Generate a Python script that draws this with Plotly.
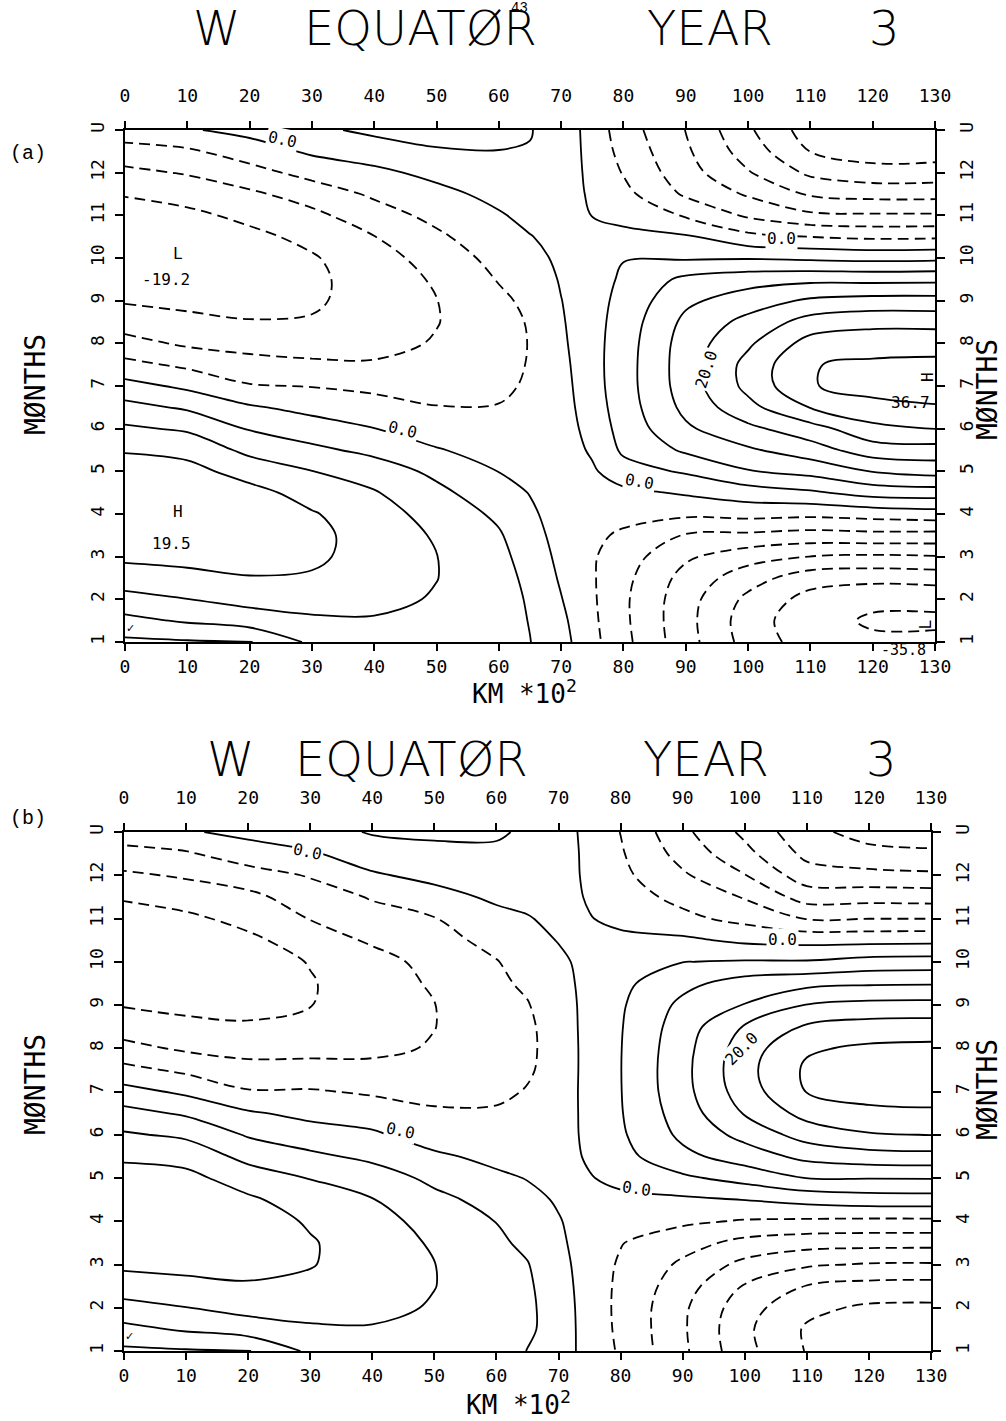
import numpy as np
import plotly.graph_objects as go

# Distance along the equator (units of 10^2 km) and month of year 3
X_KM = [0, 10, 20, 30, 40, 50, 60, 65, 70, 75, 80, 90, 100, 110, 120, 130]
MONTHS = [1.0, 1.5, 2.0, 2.5, 3.0, 3.5, 4.0, 4.5, 5.0, 5.5, 6.0, 6.5, 7.0,
          7.5, 8.0, 8.5, 9.0, 9.5, 10.0, 10.5, 11.0, 11.5, 12.0, 12.5, 13.0]
X_TICKS = [0, 10, 20, 30, 40, 50, 60, 70, 80, 90, 100, 110, 120, 130]
Y_TICKS = [1, 2, 3, 4, 5, 6, 7, 8, 9, 10, 11, 12, 13]
Y_TICKTEXT = ["1", "2", "3", "4", "5", "6", "7", "8", "9", "10", "11", "12", "U"]

# Panel (a): W at each distance, month by month (one list per distance)
A_X0 = [-1.0, 3.6, 8.3, 12.6, 16.0, 18.6, 19.5, 19.0, 17.3, 14.6, 10.8, 6.6, 1.7, -3.6, -8.3, -12.2, -15.5, -18.0, -19.2, -18.6, -17.0, -14.7, -11.2, -7.1, -2.0]
A_X10 = [-0.5, 5.6, 9.9, 13.7, 16.4, 18.2, 18.8, 18.2, 16.6, 13.5, 9.3, 4.3, -1.0, -6.0, -10.8, -14.0, -16.0, -17.8, -18.6, -18.0, -16.2, -13.0, -9.6, -5.8, -0.5]
A_X20 = [-0.3, 7.5, 11.6, 14.8, 16.5, 17.4, 17.4, 16.6, 13.0, 8.7, 4.6, 0.6, -4.6, -8.5, -11.5, -14.8, -16.3, -17.3, -17.4, -16.3, -13.7, -10.9, -6.8, -2.5, 1.5]
A_X30 = [6.0, 9.2, 12.0, 14.6, 15.7, 16.0, 15.4, 13.1, 10.1, 6.1, 2.3, -1.5, -5.2, -9.2, -12.0, -14.6, -15.7, -16.0, -15.5, -13.6, -11.2, -7.8, -3.3, 0.8, 4.0]
A_X40 = [7.5, 9.6, 11.3, 12.8, 13.5, 13.4, 12.3, 10.4, 7.6, 3.7, 0.1, -3.3, -6.0, -9.5, -11.6, -12.7, -13.0, -12.8, -11.8, -10.1, -7.2, -4.2, -1.2, 2.6, 6.0]
A_X50 = [8.0, 8.9, 9.6, 10.1, 10.1, 9.4, 8.0, 6.2, 3.9, 0.4, -2.8, -4.8, -7.0, -8.6, -9.6, -10.2, -10.1, -9.4, -8.2, -5.9, -3.6, -1.5, 1.4, 4.4, 7.5]
A_X60 = [6.8, 7.2, 7.3, 6.9, 6.3, 5.5, 4.1, 2.1, -0.1, -2.2, -3.8, -4.8, -5.9, -6.6, -7.0, -6.8, -6.0, -4.7, -3.2, -1.8, -0.5, 1.5, 3.6, 4.9, 6.5]
A_X65 = [5.1, 4.8, 4.4, 3.8, 3.0, 2.0, 0.9, -0.2, -1.3, -2.4, -3.2, -3.9, -4.4, -4.7, -4.8, -4.6, -3.9, -2.8, -1.6, -0.2, 1.4, 3.0, 4.2, 4.8, 5.2]
A_X70 = [1.8, 1.1, 0.2, -0.6, -1.3, -1.9, -2.3, -2.6, -2.7, -2.6, -2.4, -2.1, -1.8, -1.4, -0.9, -0.5, -0.1, 0.4, 1.0, 1.6, 2.1, 2.5, 2.8, 3.0, 3.1]
A_X75 = [-3.6, -4.0, -4.3, -4.5, -4.5, -4.1, -3.3, -2.0, -0.7, 0.7, 1.8, 2.6, 3.1, 3.3, 3.3, 3.2, 3.0, 2.7, 2.1, 1.1, -0.1, -0.8, -1.3, -1.7, -2.0]
A_X80 = [-8.6, -9.0, -9.1, -8.6, -7.6, -5.7, -3.6, -1.2, 3.0, 5.9, 6.9, 7.5, 7.8, 7.8, 7.6, 7.2, 6.6, 5.8, 4.8, 1.5, -1.7, -3.5, -5.3, -6.6, -7.6]
A_X90 = [-18.0, -18.3, -18.0, -16.8, -14.2, -10.4, -4.0, 0.6, 5.6, 10.8, 14.2, 16.3, 17.4, 17.6, 17.3, 16.2, 14.0, 11.2, 4.4, 0.6, -5.5, -10.8, -13.0, -14.2, -15.1]
A_X100 = [-27.0, -27.6, -26.2, -22.8, -18.0, -11.0, -3.3, 2.6, 9.7, 14.3, 18.8, 23.5, 26.4, 26.6, 24.2, 21.5, 17.5, 13.0, 4.6, -3.6, -10.8, -15.6, -19.6, -22.3, -24.2]
A_X110 = [-32.5, -33.3, -31.8, -27.8, -20.1, -12.0, -3.8, 4.2, 11.6, 17.7, 23.0, 30.2, 34.8, 34.8, 32.0, 27.0, 20.8, 13.8, 4.0, -5.1, -14.0, -20.6, -26.0, -30.1, -32.5]
A_X120 = [-34.2, -35.6, -34.0, -28.5, -20.8, -11.5, -3.0, 7.0, 15.2, 22.7, 28.5, 34.0, 36.2, 35.8, 33.0, 28.5, 21.8, 13.6, 3.5, -6.0, -14.4, -21.8, -28.0, -32.5, -34.8]
A_X130 = [-34.0, -35.8, -33.8, -28.0, -20.3, -11.7, -2.2, 7.5, 16.9, 23.0, 30.1, 34.7, 36.7, 36.0, 33.3, 28.3, 21.8, 13.8, 3.8, -5.8, -14.4, -21.8, -27.8, -32.3, -34.8]

# Panel (b)
B_X0 = [-1.0, 3.6, 8.3, 12.6, 16.0, 18.6, 19.4, 18.8, 17.0, 14.2, 10.6, 6.6, 1.7, -3.6, -8.5, -12.4, -15.3, -17.9, -19.1, -18.6, -17.0, -14.5, -10.8, -6.9, -2.0]
B_X10 = [-0.5, 5.6, 9.9, 13.7, 16.4, 18.2, 18.8, 18.2, 16.4, 13.2, 9.1, 4.3, -1.0, -6.0, -10.8, -14.0, -16.0, -17.8, -18.6, -18.0, -16.0, -12.8, -9.4, -5.6, -0.5]
B_X20 = [-0.3, 7.5, 11.6, 14.6, 16.2, 17.0, 16.8, 15.8, 12.6, 8.5, 4.5, 0.6, -4.6, -8.5, -11.5, -14.6, -16.0, -17.0, -17.0, -16.0, -13.5, -11.3, -7.2, -2.2, 1.2]
B_X30 = [6.0, 9.2, 12.0, 14.2, 15.2, 15.3, 14.6, 12.6, 9.8, 6.0, 2.3, -1.4, -4.6, -8.2, -11.6, -14.2, -15.1, -15.3, -14.8, -12.8, -9.8, -7.4, -4.6, -0.6, 3.0]
B_X40 = [7.5, 9.6, 11.3, 12.7, 13.3, 13.2, 12.1, 10.2, 7.4, 3.9, 0.8, -2.6, -5.6, -8.7, -11.1, -12.3, -12.9, -12.8, -12.1, -9.2, -6.8, -4.6, -0.6, 2.6, 5.4]
B_X50 = [8.0, 8.9, 9.6, 10.1, 10.1, 9.3, 8.0, 6.2, 3.9, 0.9, -2.5, -4.3, -6.5, -8.4, -9.6, -10.1, -10.1, -9.3, -8.2, -6.6, -5.2, -1.8, 1.4, 3.8, 5.8]
B_X60 = [7.0, 7.3, 7.4, 7.2, 6.6, 5.8, 4.9, 3.4, 1.0, -1.4, -3.2, -4.6, -5.7, -6.4, -6.8, -6.8, -6.4, -5.7, -5.2, -3.6, -1.5, 0.9, 2.8, 4.3, 5.5]
B_X65 = [4.9, 5.6, 5.7, 5.6, 5.2, 4.1, 2.8, 1.3, -0.2, -1.8, -3.0, -4.0, -4.8, -5.4, -5.6, -5.6, -5.2, -4.4, -3.1, -1.6, -0.3, 1.3, 2.7, 3.8, 4.4]
B_X70 = [3.3, 3.5, 3.3, 2.7, 1.9, 1.0, 0.3, -0.5, -1.3, -2.1, -2.6, -3.1, -3.5, -3.7, -3.7, -3.4, -2.8, -1.9, -0.9, 0.2, 1.2, 1.9, 2.4, 2.7, 2.8]
B_X75 = [-2.6, -2.8, -2.9, -2.9, -2.8, -2.6, -2.1, -1.2, -0.3, 0.7, 1.4, 1.8, 2.1, 2.1, 2.1, 2.1, 1.9, 1.7, 1.4, 0.9, 0.2, -0.5, -1.1, -1.4, -1.8]
B_X80 = [-5.5, -5.8, -5.9, -5.8, -5.5, -4.8, -3.2, -1.2, 1.4, 3.4, 4.3, 4.7, 4.85, 4.9, 4.85, 4.7, 4.4, 3.8, 2.8, 1.1, -1.2, -2.8, -3.8, -4.5, -5.1]
B_X90 = [-14.0, -14.3, -14.1, -12.8, -10.9, -8.0, -4.1, -0.8, 4.1, 8.7, 11.1, 12.4, 13.3, 13.5, 13.2, 12.5, 11.2, 8.6, 4.9, 0.9, -3.8, -6.4, -9.3, -11.8, -13.8]
B_X100 = [-23.5, -24.0, -23.0, -20.4, -16.4, -11.5, -5.4, 0.1, 6.8, 12.4, 16.6, 20.4, 22.6, 23.4, 22.6, 20.4, 15.2, 12.2, 5.4, -1.0, -6.5, -10.4, -14.8, -18.5, -21.1]
B_X110 = [-30.3, -30.6, -28.8, -25.2, -19.3, -13.0, -5.8, 1.6, 10.1, 16.4, 22.1, 26.8, 30.2, 30.8, 29.4, 25.6, 20.2, 13.6, 5.4, -1.6, -10.3, -17.2, -22.8, -26.3, -28.5]
B_X120 = [-32.6, -33.0, -30.8, -26.6, -20.4, -13.3, -6.1, 2.6, 10.2, 18.0, 24.6, 28.6, 32.3, 33.2, 30.8, 27.0, 21.4, 14.4, 6.8, -1.5, -10.1, -17.0, -23.6, -28.4, -32.0]
B_X130 = [-33.0, -33.5, -31.0, -26.8, -20.5, -13.4, -6.1, 2.8, 10.3, 18.4, 25.1, 29.0, 32.8, 33.6, 31.2, 27.2, 21.6, 14.6, 7.1, -1.4, -10.1, -17.2, -24.1, -29.0, -33.0]

# Grids: rows = months, columns = distance
W_A = np.array([A_X0, A_X10, A_X20, A_X30, A_X40, A_X50, A_X60, A_X65, A_X70,
                A_X75, A_X80, A_X90, A_X100, A_X110, A_X120, A_X130]).T
W_B = np.array([B_X0, B_X10, B_X20, B_X30, B_X40, B_X50, B_X60, B_X65, B_X70,
                B_X75, B_X80, B_X90, B_X100, B_X110, B_X120, B_X130]).T

W_PX, H_PX = 1006, 1421
MONO = "DejaVu Sans Mono"
TICK_FONT = dict(family=MONO, size=18, color="black")
TITLE_FONT = dict(family="DejaVu Sans", size=48, color="black", weight=200)


def px_x(p):
    return p / W_PX


def px_y(p):
    return 1 - p / H_PX


fig = go.Figure()


def add_field(z, xa, ya):
    common = dict(x=X_KM, y=MONTHS, z=z, xaxis=xa, yaxis=ya,
                  showscale=False, hoverinfo="skip", autocontour=False)
    # negative contours dashed
    fig.add_trace(go.Contour(
        **common,
        contours=dict(start=-35, end=-5, size=5, coloring="none"),
        line=dict(color="black", width=1.8, dash="11px,6px", smoothing=1.0)))
    # zero and positive contours solid
    fig.add_trace(go.Contour(
        **common,
        contours=dict(start=0, end=35, size=5, coloring="none"),
        line=dict(color="black", width=1.8, smoothing=1.0)))


add_field(W_A, "x", "y")
add_field(W_B, "x2", "y2")
# carriers for the mirrored top / right axes
for xa, ya in (("x3", "y3"), ("x4", "y4")):
    fig.add_trace(go.Scatter(x=[None], y=[None], xaxis=xa, yaxis=ya,
                             showlegend=False, hoverinfo="skip"))

xcommon = dict(range=[0, 130], tickmode="array", tickvals=X_TICKS,
               ticks="outside", ticklen=7, tickwidth=1.5, tickcolor="black",
               showline=True, linecolor="black", linewidth=2,
               showgrid=False, zeroline=False, tickfont=TICK_FONT,
               fixedrange=True, automargin=False)
ycommon = dict(range=[1, 13], tickmode="array", tickvals=Y_TICKS,
               ticktext=Y_TICKTEXT, tickangle=-90,
               ticks="outside", ticklen=8, tickwidth=1.5, tickcolor="black",
               showline=True, linecolor="black", linewidth=2,
               showgrid=False, zeroline=False, tickfont=TICK_FONT,
               fixedrange=True, automargin=False)

dom_xa = [px_x(125), px_x(935)]
dom_ya = [px_y(642), px_y(130)]
dom_xb = [px_x(124), px_x(931)]
dom_yb = [px_y(1351), px_y(832)]

fig.update_layout(
    width=W_PX, height=H_PX, autosize=False,
    margin=dict(l=0, r=0, t=0, b=0, pad=0),
    paper_bgcolor="white", plot_bgcolor="white",
    showlegend=False,
    xaxis=dict(**xcommon, domain=dom_xa, anchor="y", side="bottom", ticklabelstandoff=0),
    yaxis=dict(**ycommon, domain=dom_ya, anchor="x", side="left", ticklabelstandoff=4),
    xaxis2=dict(**xcommon, domain=dom_xb, anchor="y2", side="bottom", ticklabelstandoff=0),
    yaxis2=dict(**ycommon, domain=dom_yb, anchor="x2", side="left", ticklabelstandoff=4),
    xaxis3=dict(**xcommon, overlaying="x", anchor="y", side="top", ticklabelstandoff=12),
    yaxis3=dict(**ycommon, overlaying="y", anchor="x", side="right", ticklabelstandoff=6),
    xaxis4=dict(**xcommon, overlaying="x2", anchor="y2", side="top", ticklabelstandoff=12),
    yaxis4=dict(**ycommon, overlaying="y2", anchor="x2", side="right", ticklabelstandoff=6),
)

ann = []


def paper_text(text, px, py, font, angle=0):
    ann.append(dict(text=text, x=px_x(px), y=px_y(py), xref="paper", yref="paper",
                    showarrow=False, xanchor="center", yanchor="middle",
                    font=font, textangle=angle))


def data_text(text, x, y, xr, yr, angle=0, bg=True, size=16):
    ann.append(dict(text=text, x=x, y=y, xref=xr, yref=yr, showarrow=False,
                    xanchor="center", yanchor="middle", textangle=angle,
                    font=dict(family=MONO, size=size, color="black"),
                    bgcolor="white" if bg else None, borderpad=1))


# page number and panel tags
paper_text("43", 519, 8, dict(family="Liberation Mono", size=14, color="black"))
paper_text("(a)", 28, 153, dict(family="Liberation Mono", size=20, color="black"))
paper_text("(b)", 28, 818, dict(family="Liberation Mono", size=20, color="black"))

# panel titles
for yy, words in ((28, ((216, "W"), (420, "EQUATØR"), (710, "YEAR"), (884, "3"))),
                  (759, ((230, "W"), (411, "EQUATØR"), (706, "YEAR"), (881, "3")))):
    for xx, w in words:
        paper_text(w, xx, yy, TITLE_FONT)

# axis titles
axis_font = dict(family=MONO, size=26, color="black")
paper_text("KM *10<sup>2</sup>", 524, 692, axis_font)
paper_text("KM *10<sup>2</sup>", 518, 1403, axis_font)
months_font = dict(family=MONO, size=28, color="black")
paper_text("MØNTHS", 35, 385, months_font, angle=-90)
paper_text("MØNTHS", 987, 390, months_font, angle=-90)
paper_text("MØNTHS", 35, 1085, months_font, angle=-90)
paper_text("MØNTHS", 987, 1090, months_font, angle=-90)

# pen marks in the lower-left corners
paper_text("✓", 130, 628, dict(family="DejaVu Sans", size=11, color="black"))
paper_text("✓", 129, 1336, dict(family="DejaVu Sans", size=11, color="black"))

# contour labels, panel (a)
data_text("0.0", 25.3, 12.78, "x", "y", angle=12)
data_text("0.0", 44.5, 5.97, "x", "y", angle=14)
data_text("0.0", 82.6, 4.75, "x", "y", angle=10)
data_text("0.0", 105.3, 10.45, "x", "y", angle=0)
data_text("20.0", 93.4, 7.4, "x", "y", angle=-72)
data_text("L", 8.5, 10.1, "x", "y", bg=False)
data_text("-19.2", 6.6, 9.5, "x", "y", bg=False)
data_text("H", 8.5, 4.05, "x", "y", bg=False)
data_text("19.5", 7.5, 3.3, "x", "y", bg=False)
data_text("H", 128.8, 7.2, "x", "y", angle=-90, bg=False)
data_text("36.7", 126.0, 6.62, "x", "y", bg=False)
data_text("L", 128.5, 1.4, "x", "y", angle=-90, bg=False)
paper_text("-35.8", 903, 650, dict(family=MONO, size=15, color="black"))

# contour labels, panel (b)
data_text("0.0", 29.5, 12.55, "x2", "y2", angle=12)
data_text("0.0", 44.5, 6.1, "x2", "y2", angle=12)
data_text("0.0", 82.5, 4.75, "x2", "y2", angle=8)
data_text("0.0", 106.0, 10.52, "x2", "y2", angle=0)
data_text("20.0", 99.5, 8.0, "x2", "y2", angle=-45)

fig.update_layout(annotations=ann)
fig.write_html(
    "out.html",
    config={"responsive": False, "displayModeBar": False},
    post_script="document.documentElement.style.overflow='hidden';"
                "document.body.style.overflow='hidden';document.body.style.margin='0';",
)
